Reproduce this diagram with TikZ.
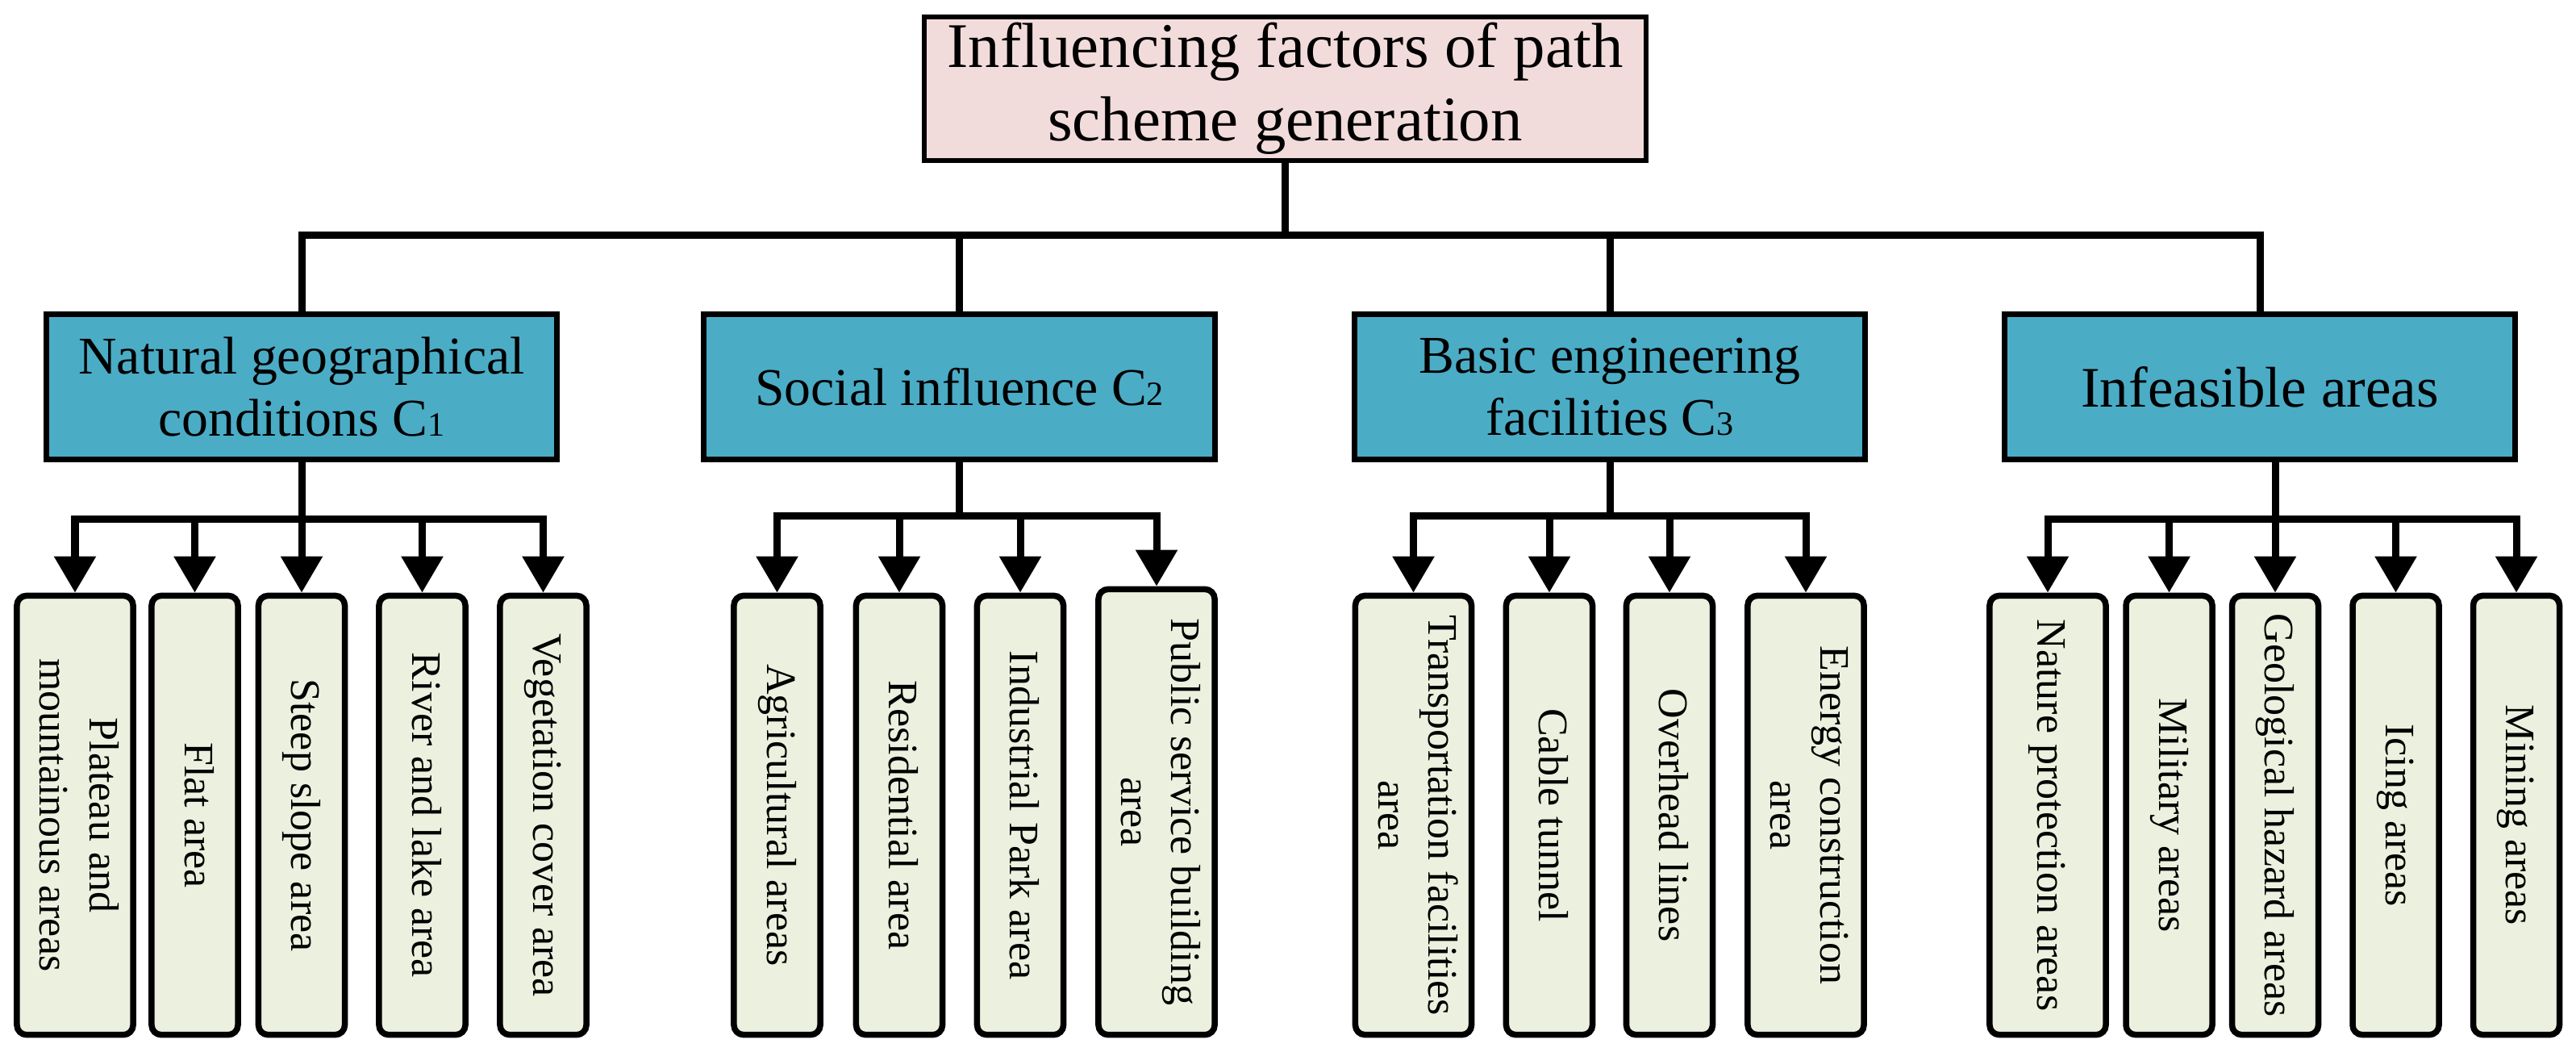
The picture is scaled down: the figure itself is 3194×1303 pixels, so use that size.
\documentclass[tikz,border=0pt]{standalone}
\usepackage{fontspec}
\setmainfont{Liberation Serif}
\usepackage{graphicx}
\usetikzlibrary{arrows.meta}
\definecolor{topfill}{RGB}{242,220,219}
\definecolor{midfill}{RGB}{75,172,198}
\definecolor{leaffill}{RGB}{235,241,222}
\newcommand{\subd}[1]{{\fontsize{12pt}{12pt}\selectfont #1}}
\newcommand{\vtext}[1]{\rotatebox{-90}{\fontsize{14.8pt}{17.6pt}\selectfont\setlength{\tabcolsep}{0pt}\begin{tabular}{c}#1\end{tabular}}}
\begin{document}
\begin{tikzpicture}[x=0.01cm,y=-0.01cm,
  topbox/.style={draw, line width=0.06cm, fill=topfill, minimum width=8.95cm, minimum height=1.78cm, inner sep=0pt, align=center, font=\fontsize{22.4pt}{25.8pt}\selectfont},
  midbox/.style={draw, line width=0.07cm, fill=midfill, minimum width=6.33cm, minimum height=1.80cm, inner sep=0pt, align=center, font=\fontsize{18.7pt}{21.8pt}\selectfont},
  leaf/.style={draw, line width=0.075cm, fill=leaffill, rounded corners=0.12cm, minimum width=1.07cm, minimum height=5.44cm, inner sep=0pt},
  wideleaf/.style={leaf, minimum width=1.44cm},
  conn/.style={line width=0.09cm},
  bus/.style={conn, line cap=rect},
  arr/.style={conn, -{Triangle[width=0.5cm,length=0.45cm]}}
]
\useasboundingbox (0,0) rectangle (3194,1303);

% top
\node[topbox] (top) at (1593.5,110) {Influencing factors of path\\scheme generation};

% level 2
\node[midbox] (m1) at (374,479.5) {Natural geographical\\conditions C\subd{1}};
\node[midbox] (m2) at (1189.5,479.5) {Social influence C\subd{2}};
\node[midbox] (m3) at (1996,479.5) {Basic engineering\\facilities C\subd{3}};
\node[midbox, font=\fontsize{20.2pt}{23pt}\selectfont] (m4) at (2802,479.5) {Infeasible areas};

% leaves group 1
\node[wideleaf] (a1) at (93,1010.5) {\vtext{Plateau and\\mountainous areas}};
\node[leaf] (a2) at (241.5,1010.5) {\vtext{Flat area}};
\node[leaf] (a3) at (374,1010.5) {\vtext{Steep slope area}};
\node[leaf] (a4) at (523.5,1010.5) {\vtext{River and lake area}};
\node[leaf] (a5) at (673.5,1010.5) {\vtext{Vegetation cover area}};

% leaves group 2
\node[leaf] (s1) at (963.5,1010.5) {\vtext{Agricultural areas}};
\node[leaf] (s2) at (1115,1010.5) {\vtext{Residential area}};
\node[leaf] (s3) at (1265,1010.5) {\vtext{Industrial Park area}};
\node[wideleaf, minimum height=5.52cm] (s4) at (1434,1006.5) {\vtext{Public service building\\area}};

% leaves group 3
\node[wideleaf] (e1) at (1752.5,1010.5) {\vtext{Transportation facilities\\area}};
\node[leaf] (e2) at (1921,1010.5) {\vtext{Cable tunnel}};
\node[leaf] (e3) at (2070,1010.5) {\vtext{Overhead lines}};
\node[wideleaf] (e4) at (2239,1010.5) {\vtext{Energy construction\\area}};

% leaves group 4
\node[wideleaf] (b1) at (2539,1010.5) {\vtext{Nature protection areas}};
\node[leaf] (b2) at (2689.5,1010.5) {\vtext{Military areas}};
\node[leaf] (b3) at (2821,1010.5) {\vtext{Geological hazard areas}};
\node[leaf] (b4) at (2970.5,1010.5) {\vtext{Icing areas}};
\node[leaf] (b5) at (3120,1010.5) {\vtext{Mining areas}};

% main bus
\coordinate (busY) at (0,291);
\draw[conn] (top.south) -- (top.south |- busY);
\draw[bus] (m1.north) -- (m1.north |- busY) -- (m4.north |- busY) -- (m4.north);
\draw[conn] (m2.north |- busY) -- (m2.north);
\draw[conn] (m3.north |- busY) -- (m3.north);

% group 1
\coordinate (g1) at (0,643);
\draw[conn] (m1.south) -- (m1.south |- g1);
\draw[bus] (a1.north |- g1) -- (a5.north |- g1);
\foreach \n in {a1,a2,a3,a4,a5} \draw[arr] (\n.north |- g1) -- (\n.north);

% group 2
\coordinate (g2) at (0,639);
\draw[conn] (m2.south) -- (m2.south |- g2);
\draw[bus] (s1.north |- g2) -- (s4.north |- g2);
\foreach \n in {s1,s2,s3,s4} \draw[arr] (\n.north |- g2) -- (\n.north);

% group 3
\coordinate (g3) at (0,639);
\draw[conn] (m3.south) -- (m3.south |- g3);
\draw[bus] (e1.north |- g3) -- (e4.north |- g3);
\foreach \n in {e1,e2,e3,e4} \draw[arr] (\n.north |- g3) -- (\n.north);

% group 4
\coordinate (g4) at (0,643);
\draw[conn] (m4.south -| b3.north) -- (b3.north |- g4);
\draw[bus] (b1.north |- g4) -- (b5.north |- g4);
\foreach \n in {b1,b2,b3,b4,b5} \draw[arr] (\n.north |- g4) -- (\n.north);
\end{tikzpicture}
\end{document}
